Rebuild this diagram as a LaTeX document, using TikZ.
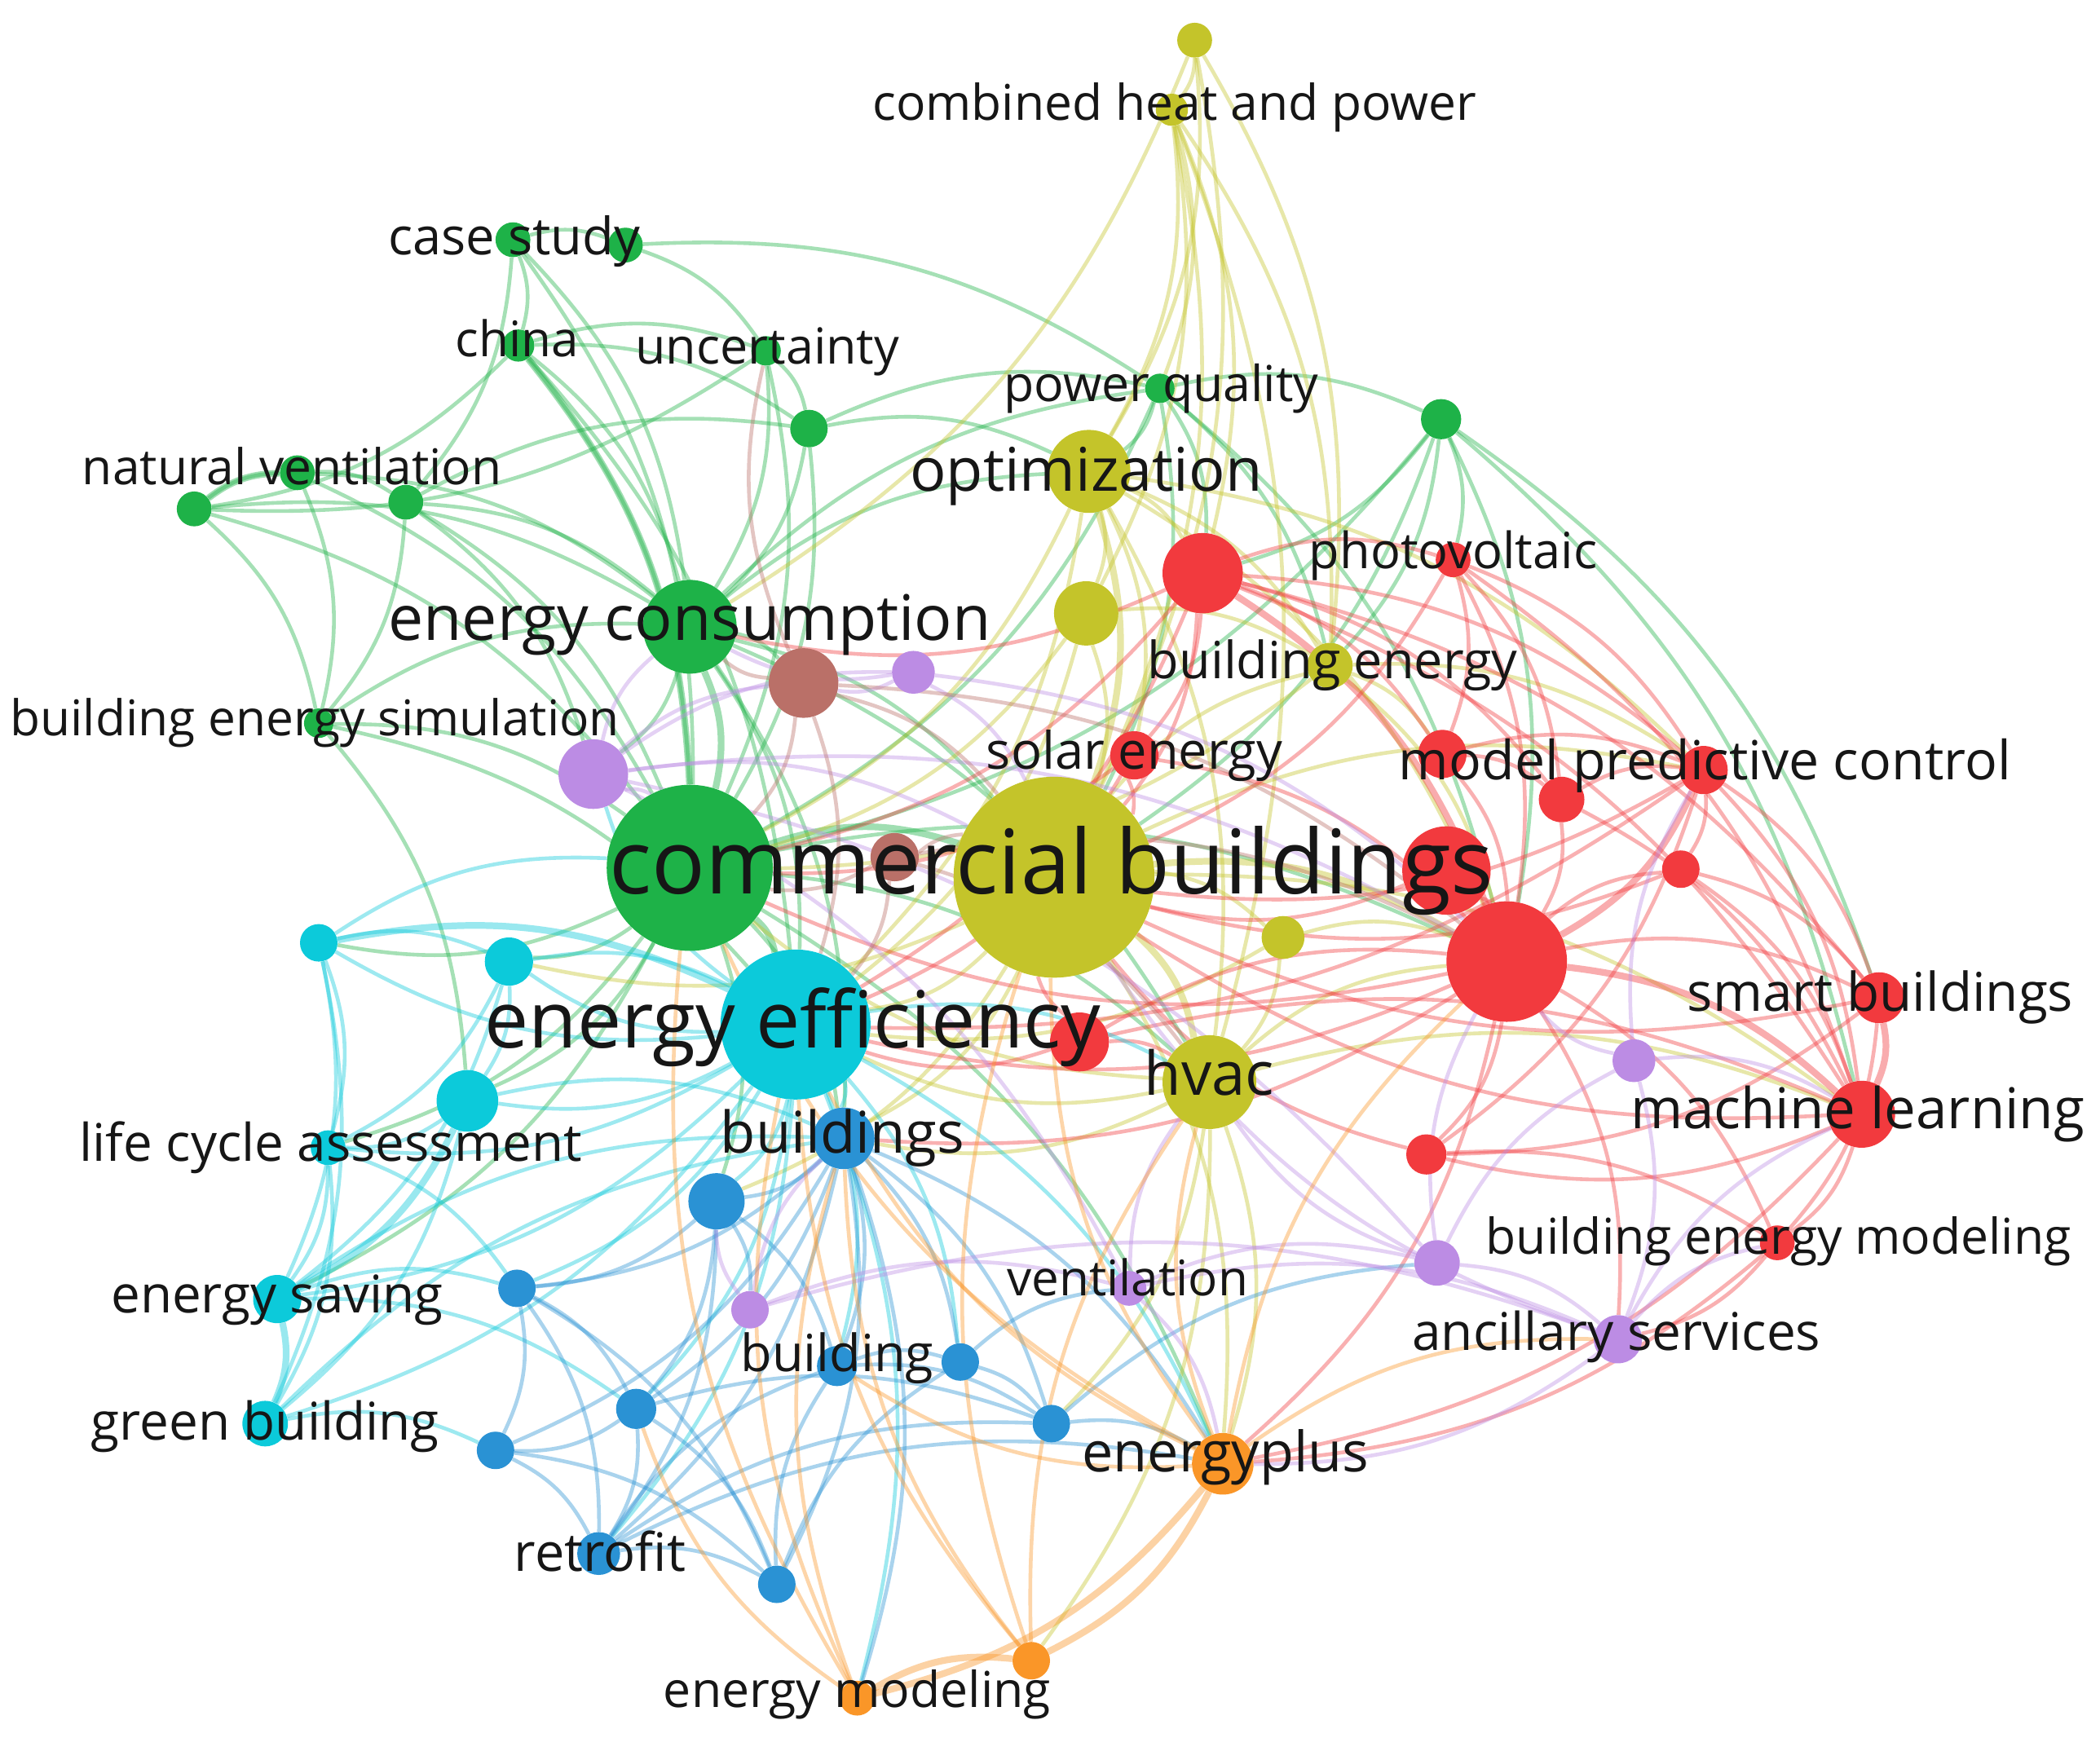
\documentclass[tikz,border=0pt]{standalone}
\usepackage{fontspec}
\setmainfont{Open Sans}
\usepackage{graphicx}
\pgfdeclarelayer{bgwhite}
\pgfdeclarelayer{edges}
\pgfsetlayers{bgwhite,edges,main}
\definecolor{cG}{RGB}{30,178,72}
\definecolor{cY}{RGB}{196,196,42}
\definecolor{cR}{RGB}{242,58,62}
\definecolor{cC}{RGB}{12,202,218}
\definecolor{cB}{RGB}{42,146,212}
\definecolor{cP}{RGB}{188,140,228}
\definecolor{cO}{RGB}{250,150,40}
\definecolor{cN}{RGB}{186,112,104}
\definecolor{ink}{RGB}{22,22,22}
\tikzset{
  dot/.style={circle,inner sep=0pt,draw=none},
  lab/.style={inner sep=0pt,text=ink},
  edge/.style={line width=2.8pt,draw opacity=0.4},
  thickedge/.style={line width=5pt,draw opacity=0.42},
}
\newcommand\Dot[5]{\node[dot,fill=#5,minimum size=#4*2pt] (#1) at (#2,#3) {};}
\newcommand\Lbl[5]{\node[lab] (#1) at (#2,#3) {\resizebox{#4pt}{!}{#5\vphantom{dg}}};}
\newcommand\Edges[2]{\foreach \a/\b in {#2} {\draw[edge,#1] (\a) to[bend left=18] (\b);}}
\newcommand\Thick[2]{\foreach \a/\b in {#2} {\draw[thickedge,#1] (\a) to[bend left=18] (\b);}}
\begin{document}
\begin{tikzpicture}[x=1pt,y=-1pt]
\begin{pgfonlayer}{bgwhite}
\fill[white] (0,0) rectangle (1568,1307);
\end{pgfonlayer}
\useasboundingbox (0,0) rectangle (1568,1307);
% ---------- green
\Dot{cbG}{515}{648}{62}{cG}
\Dot{ec}{515}{468}{35}{cG}
\Dot{cs1}{383}{179}{13}{cG}
\Dot{cs2}{467}{183}{13}{cG}
\Dot{china}{387}{258}{12}{cG}
\Dot{unc}{572}{262}{11}{cG}
\Dot{g6}{604}{320}{14}{cG}
\Dot{nv1}{145}{380}{13}{cG}
\Dot{nv2}{222}{353}{13}{cG}
\Dot{nv3}{303}{375}{13}{cG}
\Dot{bes}{238}{540}{11}{cG}
\Dot{pq}{866}{290}{11}{cG}
\Dot{g10}{1076}{313}{15}{cG}
% ---------- yellow
\Dot{cbY}{787}{655}{75}{cY}
\Dot{chp1}{892}{30}{13}{cY}
\Dot{chp2}{875}{82}{12}{cY}
\Dot{opt}{813}{352}{31}{cY}
\Dot{y4}{811}{458}{24}{cY}
\Dot{be}{993}{497}{17}{cY}
\Dot{y6}{958}{700}{16}{cY}
\Dot{hvac}{903}{808}{35}{cY}
% ---------- red
\Dot{r1}{898}{428}{30}{cR}
\Dot{pv}{1085}{418}{13}{cR}
\Dot{r3}{1077}{563}{18}{cR}
\Dot{se}{847}{564}{18}{cR}
\Dot{r5}{1166}{597}{17}{cR}
\Dot{mpc}{1272}{575}{18}{cR}
\Dot{r7}{1080}{650}{33}{cR}
\Dot{rbig}{1125}{718}{45}{cR}
\Dot{r9}{1255}{649}{14}{cR}
\Dot{sb}{1403}{745}{19}{cR}
\Dot{ml}{1390}{832}{25}{cR}
\Dot{r12}{1065}{862}{15}{cR}
\Dot{bem}{1327}{928}{13}{cR}
\Dot{rEE}{806}{778}{22}{cR}
% ---------- cyan
\Dot{ee}{594}{765}{56}{cC}
\Dot{c2}{238}{704}{14}{cC}
\Dot{c3}{380}{718}{18}{cC}
\Dot{c4}{349}{822}{23}{cC}
\Dot{lca}{245}{857}{13}{cC}
\Dot{es}{207}{970}{18}{cC}
\Dot{gb}{198}{1063}{17}{cC}
% ---------- blue
\Dot{bs}{630}{850}{23}{cB}
\Dot{b2}{535}{897}{21}{cB}
\Dot{b3}{386}{962}{14}{cB}
\Dot{b4}{475}{1052}{15}{cB}
\Dot{b5}{370}{1083}{14}{cB}
\Dot{rf}{447}{1160}{16}{cB}
\Dot{b7}{580}{1183}{14}{cB}
\Dot{bd}{625}{1020}{15}{cB}
\Dot{b9}{717}{1017}{14}{cB}
\Dot{b10}{785}{1063}{14}{cB}
% ---------- purple
\Dot{p1}{443}{578}{26}{cP}
\Dot{p2}{682}{502}{16}{cP}
\Dot{p3}{560}{978}{14}{cP}
\Dot{p4}{1073}{943}{17}{cP}
\Dot{p5}{1220}{792}{16}{cP}
\Dot{as}{1208}{1000}{18}{cP}
\Dot{vt}{843}{962}{13}{cP}
% ---------- brown
\Dot{br1}{600}{510}{26}{cN}
\Dot{br2}{668}{640}{18}{cN}
% ---------- orange
\Dot{ep}{913}{1093}{23}{cO}
\Dot{em1}{640}{1268}{13}{cO}
\Dot{em2}{770}{1240}{14}{cO}
% ---------- edges
\begin{pgfonlayer}{edges}
\Edges{cG}{cs1/cs2,cs1/china,cs1/nv3,cs1/cbG,cs1/ec,cs2/unc,cs2/pq,china/ec,china/cbG,china/unc,china/nv1,china/g6,china/ee,unc/g6,unc/ec,unc/cbG,unc/nv1,g6/ec,g6/cbG,g6/pq,g6/opt,nv1/nv2,nv2/nv3,nv1/bes,nv1/cbG,nv1/ec,nv2/bes,nv2/cbG,nv2/ec,nv3/ec,nv3/cbG,nv3/p1,nv3/bes,nv3/g6,bes/cbG,bes/ec,bes/ee,bes/c4,ec/ee,ec/cbY,ec/opt,ec/br1,ec/p1,ec/pq,ec/hvac,ec/bs,pq/opt,pq/g10,pq/cbG,pq/be,pq/r1,pq/cbY,pq/rbig,g10/cbG,g10/rbig,g10/r1,g10/ml,g10/sb,g10/pv,g10/cbY,g10/be,cbG/bs,cbG/c2,cbG/c3,cbG/c4,cbG/hvac,cbG/rbig,cbG/lca,cbG/es,cbG/b2,cbG/ep}
\Thick{cG}{ec/cbG,cbG/ee,cbG/cbY,china/cbG,nv1/nv2}
\Edges{cY}{chp1/chp2,chp1/opt,chp1/cbY,chp1/be,chp1/ec,chp2/opt,chp2/cbY,chp2/y4,chp2/pq,chp2/r1,chp2/hvac,chp2/be,opt/y4,opt/r1,opt/be,opt/hvac,opt/rbig,opt/cbG,opt/ee,opt/mpc,opt/se,y4/cbY,y4/be,y4/cbG,y4/ee,cbY/ee,cbY/y6,cbY/bs,cbY/ep,cbY/ml,cbY/mpc,cbY/be,cbY/c3,cbY/b2,be/r3,be/rbig,be/mpc,be/cbG,y6/rbig,y6/hvac,y6/ee,hvac/ee,hvac/rbig,hvac/ep,hvac/bs,hvac/ml,hvac/cbG,hvac/b10,hvac/em2}
\Thick{cY}{opt/cbY,cbY/hvac,cbY/rbig}
\Edges{cR}{r1/cbY,r1/mpc,r1/r3,r1/sb,r1/ml,r1/se,r1/cbG,r1/ee,r1/ec,r1/r5,r1/pv,pv/r3,pv/rbig,pv/mpc,pv/r5,pv/cbY,pv/ml,r3/rbig,r3/mpc,r3/r5,se/cbY,se/rbig,se/ee,se/cbG,r5/rbig,r5/mpc,r5/ml,mpc/sb,mpc/ml,mpc/r9,mpc/r12,mpc/cbY,r7/rbig,r7/cbY,rbig/sb,rbig/r9,rbig/r12,rbig/bem,rbig/ee,rbig/cbG,rbig/bs,rbig/as,rbig/ep,r9/sb,r9/ml,sb/bem,sb/r12,ml/bem,ml/r12,ml/cbY,ml/ep,r12/bem,r12/cbY,bem/ep,bem/as,rEE/cbY,rEE/ee,rEE/rbig,rEE/hvac,rEE/ml,mpc/ee,sb/cbY,r9/cbY}
\Thick{cR}{r1/rbig,mpc/rbig,rbig/ml,sb/ml}
\Edges{cC}{ee/bs,ee/c2,ee/c3,ee/c4,ee/lca,ee/es,ee/gb,ee/b2,ee/b3,ee/b4,ee/rf,ee/bd,ee/b9,ee/p1,ee/ep,ee/em1,ee/hvac,c2/c3,c2/es,c2/lca,c2/gb,c2/cbG,c3/c4,c3/lca,c3/es,c3/ee,c4/lca,c4/gb,c4/bs,lca/es,lca/gb,lca/b3,es/b3,es/bs,gb/b5,gb/bs,es/b4}
\Thick{cC}{es/gb,c4/es,c2/ee}
\Edges{cB}{bs/b2,bs/b3,bs/b4,bs/b5,bs/rf,bs/b7,bs/bd,bs/b9,bs/b10,bs/ep,bs/em1,b2/b3,b2/b4,b2/rf,b2/bd,b2/p3,b3/b4,b3/b5,b3/rf,b3/b7,b4/b5,b4/rf,b4/b7,b5/rf,b5/b7,rf/b7,rf/bd,rf/ep,b7/bd,b7/b9,bd/b9,bd/b10,b9/b10,b10/ep,b10/p4,b9/vt,b4/b10,rf/b10}
\Edges{cP}{p1/ec,p1/cbG,p1/br1,p1/p2,p1/cbY,p1/rbig,p1/vt,p1/p4,p2/br1,p2/cbY,p2/rbig,p2/ec,p3/bs,p3/b2,p3/vt,p3/as,p4/as,p4/rbig,p4/p5,p5/as,p5/rbig,p5/ml,p5/mpc,as/ep,as/ml,as/bem,vt/as,vt/ep,vt/p4,vt/hvac,as/cbY,p4/hvac}
\Edges{cN}{br1/ec,br1/cbY,br1/cbG,br1/rbig,br1/ee,br1/unc,br2/cbY,br2/cbG,br2/ee,br2/rbig,br2/hvac}
\Edges{cO}{ep/hvac,ep/cbY,ep/ee,ep/as,ep/rbig,ep/bd,em1/bs,em1/ee,em1/b4,em2/bs,em2/cbY,em2/hvac,em1/cbG,em2/ee,ep/cbG}
\Thick{cO}{ep/em1,ep/em2,em1/em2}
\end{pgfonlayer}
% ---------- labels
\Lbl{l-chp}{877}{80}{451}{combined heat and power}
\Lbl{l-cs}{384}{180}{188}{case study}
\Lbl{l-china}{386}{257}{92}{china}
\Lbl{l-unc}{573}{262}{197}{uncertainty}
\Lbl{l-pq}{867}{290}{235}{power quality}
\Lbl{l-nv}{218}{352}{313}{natural ventilation}
\Lbl{l-opt}{811}{355}{263}{optimization}
\Lbl{l-pv}{1085}{415}{215}{photovoltaic}
\Lbl{l-ec}{515}{466}{450}{energy consumption}
\Lbl{l-be}{995}{497}{276}{building energy}
\Lbl{l-bes}{235}{540}{455}{building energy simulation}
\Lbl{l-se}{847}{564}{221}{solar energy}
\Lbl{l-mpc}{1273}{572}{457}{model predictive control}
\Lbl{l-cb}{785}{650}{660}{commercial buildings}
\Lbl{l-sb}{1404}{745}{288}{smart buildings}
\Lbl{l-ee}{592}{767}{460}{energy efficiency}
\Lbl{l-hvac}{903}{806}{97}{hvac}
\Lbl{l-ml}{1387}{832}{339}{machine learning}
\Lbl{l-lca}{247}{857}{375}{life cycle assessment}
\Lbl{l-bs}{629}{850}{182}{buildings}
\Lbl{l-bem}{1328}{927}{437}{building energy modeling}
\Lbl{l-vt}{842}{958}{180}{ventilation}
\Lbl{l-es}{207}{970}{248}{energy saving}
\Lbl{l-as}{1207}{998}{305}{ancillary services}
\Lbl{l-bd}{625}{1014}{144}{building}
\Lbl{l-gb}{198}{1065}{260}{green building}
\Lbl{l-ep}{915}{1088}{214}{energyplus}
\Lbl{l-rf}{448}{1163}{128}{retrofit}
\Lbl{l-em}{640}{1265}{289}{energy modeling}
\end{tikzpicture}
\end{document}
